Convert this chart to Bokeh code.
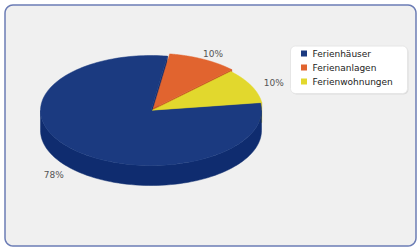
import numpy as np
from bokeh.plotting import figure
from bokeh.models import Range1d
from bokeh.core.properties import value
from bokeh.embed import file_html
from bokeh.resources import INLINE

# ---- data ----
categories = ["Ferienhäuser", "Ferienanlagen", "Ferienwohnungen"]
values = [78, 10, 10]
labels = ["78%", "10%", "10%"]
top_colors = ["#1b3a80", "#e1642f", "#e2d82d"]
side_colors = ["#0f2c6f", "#c44f1f", "#c9b91f"]
explode = [0, 5, 1.5]

W, H = 420, 250
p = figure(width=W, height=H, x_range=Range1d(0, W), y_range=Range1d(H, 0),
           output_backend="svg", toolbar_location=None, min_border=0)
p.axis.visible = False
p.grid.visible = False
p.outline_line_color = None
p.background_fill_color = "white"
p.border_fill_color = "white"


def rrect(x0, y0, x1, y1, r, n=8):
    xs, ys = [], []
    corners = [(x1 - r, y0 + r, -90, 0), (x1 - r, y1 - r, 0, 90),
               (x0 + r, y1 - r, 90, 180), (x0 + r, y0 + r, 180, 270)]
    for cx_, cy_, a0, a1 in corners:
        t = np.radians(np.linspace(a0, a1, n))
        xs += list(cx_ + r * np.cos(t))
        ys += list(cy_ + r * np.sin(t))
    return xs, ys

# outer panel
bx, by = rrect(4.5, 4.5, 415.5, 245.5, 8)
p.patch(bx, by, fill_color="#f0f0f0", line_color="#6b7cb5", line_width=1.5)

# ---- 3D pie ----
cx, cy, rx, ry, depth = 150.5, 110.0, 110.5, 55.0, 20.0
start = 8.0
total = float(sum(values))
spans = [v / total * 360.0 for v in values]

slices = []
a_hi = start + 360.0
for i, s in enumerate(spans):
    a1 = a_hi
    a0 = a_hi - s
    a_hi = a0
    mid = np.radians((a0 + a1) / 2)
    ox = explode[i] * np.cos(mid)
    oy = -explode[i] * np.sin(mid) * ry / rx
    slices.append((i, a0, a1, ox, oy))


def rim(a, ox, oy, dz=0.0):
    t = np.radians(a)
    return cx + ox + rx * np.cos(t), cy + oy - ry * np.sin(t) + dz

# cut faces
for i, a0, a1, ox, oy in slices:
    for a, nrm in ((a0, a0 - 90), (a1, a1 + 90)):
        if np.sin(np.radians(nrm)) < 0:
            xr, yr = rim(a, ox, oy)
            xs = [cx + ox, xr, xr, cx + ox]
            ys = [cy + oy, yr, yr + depth, cy + oy + depth]
            p.patch(xs, ys, fill_color=side_colors[i], line_color=side_colors[i], line_width=0.5)

# outer sides (front half only)
for i, a0, a1, ox, oy in slices:
    for k in range(-1, 3):
        lo = max(a0, 180 + 360 * k)
        hi = min(a1, 360 + 360 * k)
        if hi > lo:
            t = np.linspace(lo, hi, 80)
            xt, yt = rim(t, ox, oy)
            xs = list(xt) + list(xt[::-1])
            ys = list(yt) + list((yt + depth)[::-1])
            p.patch(xs, ys, fill_color=side_colors[i], line_color=side_colors[i], line_width=0.5)

# top faces
for i, a0, a1, ox, oy in slices:
    t = np.linspace(a0, a1, 160)
    xt, yt = rim(t, ox, oy)
    xs = [cx + ox] + list(xt)
    ys = [cy + oy] + list(yt)
    p.patch(xs, ys, fill_color=top_colors[i], line_color=top_colors[i], line_width=0.5)

# percentage labels
lrx, lry = 137.0, 63.0
lx, ly = [], []
for i, a0, a1, ox, oy in slices:
    m = np.radians((a0 + a1) / 2)
    lx.append(cx + lrx * np.cos(m))
    ly.append(cy - lry * np.sin(m) + (depth if np.sin(m) < 0 else 0))
p.text(lx, ly, text=labels, text_font=value("DejaVu Sans"), text_font_size="9px",
       text_color="#555555", text_align="center", text_baseline="middle")

# ---- legend ----
sx, sy = rrect(290, 45.5, 407, 93, 5)
p.patch([x + 1 for x in sx], [y + 1 for y in sy], fill_color="#dcdcdc", line_color=None)
p.patch(sx, sy, fill_color="white", line_color="#e6e6e6", line_width=1)
leg_y = [53 + 14 * k for k in range(len(categories))]
p.scatter([303.5] * len(categories), leg_y, marker="square", size=6,
          fill_color=top_colors, line_color=None)
p.text([312] * len(categories), leg_y, text=categories, text_font=value("DejaVu Sans"),
       text_font_size="9px", text_color="#222222", text_align="left", text_baseline="middle")

open("out.html", "w").write(file_html(p, INLINE))
